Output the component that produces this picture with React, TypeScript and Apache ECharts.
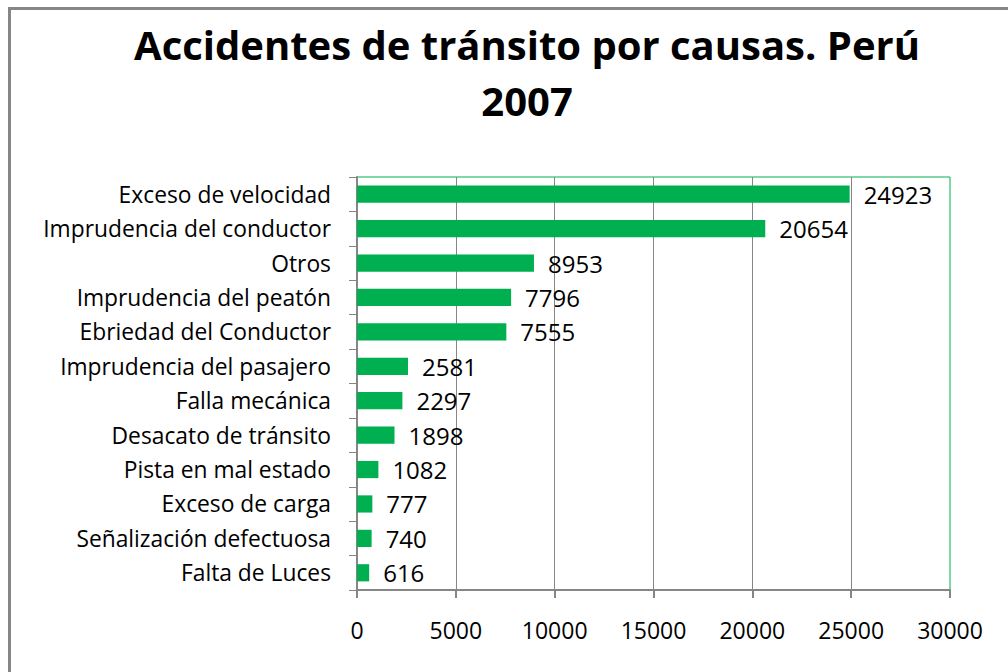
import React, { useEffect, useRef } from "react";
import * as echarts from "echarts";

const titleText = "Accidentes de tránsito por causas. Perú\n2007";
const categories = [
  "Exceso de velocidad",
  "Imprudencia del conductor",
  "Otros",
  "Imprudencia del peatón",
  "Ebriedad del Conductor",
  "Imprudencia del pasajero",
  "Falla mecánica",
  "Desacato de tránsito",
  "Pista en mal estado",
  "Exceso de carga",
  "Señalización defectuosa",
  "Falta de Luces",
];
const values = [24923, 20654, 8953, 7796, 7555, 2581, 2297, 1898, 1082, 777, 740, 616];
const axisMin = 0;
const axisMax = 30000;
const axisInterval = 5000;

const FONT = "'Open Sans', Lato, sans-serif";

export default function App() {
  const ref = useRef<HTMLDivElement>(null);
  useEffect(() => {
    if (!ref.current) return;
    const chart = echarts.init(ref.current, undefined, { renderer: "svg" });
    chart.setOption({
      animation: false,
      backgroundColor: "#ffffff",
      textStyle: { fontFamily: FONT },
      title: {
        text: titleText,
        left: 522,
        textAlign: "center",
        top: 11,
        textStyle: {
          fontFamily: FONT,
          fontSize: 40,
          fontWeight: "bold",
          color: "#000",
          lineHeight: 56,
        },
      },
      graphic: [
        {
          type: "line",
          shape: { x1: 8, y1: 8.5, x2: 1008, y2: 8.5 },
          style: { stroke: "#868686", lineWidth: 3 },
        },
        {
          type: "line",
          shape: { x1: 9.5, y1: 7, x2: 9.5, y2: 672 },
          style: { stroke: "#868686", lineWidth: 3 },
        },
      ],
      grid: {
        left: 357,
        top: 177,
        right: 58,
        bottom: 82,
        show: true,
        borderColor: "#00B050",
        borderWidth: 1,
        containLabel: false,
      },
      xAxis: {
        type: "value",
        min: axisMin,
        max: axisMax,
        interval: axisInterval,
        axisLine: { show: true, lineStyle: { color: "#868686", width: 2 } },
        axisTick: { show: true, length: 8, lineStyle: { color: "#868686", width: 2 } },
        axisLabel: {
          fontFamily: FONT,
          fontSize: 23,
          color: "#000",
          margin: 28,
          formatter: (v: number) => String(v),
        },
        splitLine: { show: true, showMaxLine: false, lineStyle: { color: "#868686", width: 1 } },
      },
      yAxis: {
        type: "category",
        data: categories,
        inverse: true,
        axisLine: { show: true, lineStyle: { color: "#868686", width: 2 } },
        axisTick: { show: true, length: 8, lineStyle: { color: "#868686", width: 1 } },
        axisLabel: { fontFamily: FONT, fontSize: 22.8, color: "#000", margin: 26 },
        splitLine: { show: false },
      },
      series: [
        {
          type: "bar",
          data: values,
          barWidth: "50%",
          itemStyle: { color: "#00B050" },
          label: {
            show: true,
            position: "right",
            distance: 14,
            fontFamily: FONT,
            fontSize: 24,
            color: "#000",
          },
        },
      ],
    });
    return () => chart.dispose();
  }, []);
  return (
    <div
      ref={ref}
      style={{ position: "fixed", left: 0, top: 0, width: 1008, height: 672 }}
    />
  );
}
